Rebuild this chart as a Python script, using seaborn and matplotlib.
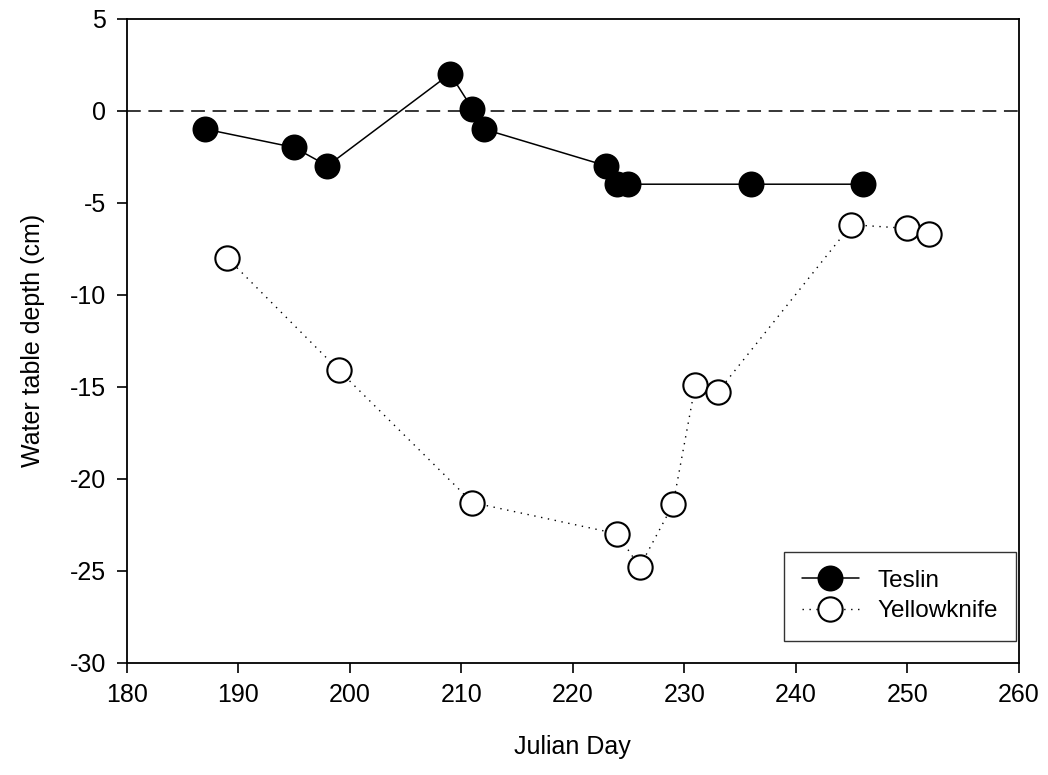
import matplotlib
matplotlib.use("Agg")
import matplotlib.pyplot as plt
import seaborn as sns
import pandas as pd

# Teslin site
teslin_day = [187, 195, 198, 209, 211, 212, 223, 224, 225, 236, 246]
teslin_depth = [-1, -2, -3, 2, 0.1, -1, -3, -4, -4, -4, -4]

# Yellowknife site
yk_day = [189, 199, 211, 224, 226, 229, 231, 233, 245, 250, 252]
yk_depth = [-8.0, -14.1, -21.3, -23.0, -24.8, -21.4, -14.9, -15.3, -6.2, -6.4, -6.7]

x_ticks = [180, 190, 200, 210, 220, 230, 240, 250, 260]
y_ticks = [5, 0, -5, -10, -15, -20, -25, -30]

sns.set_style("ticks")
plt.rcParams["font.family"] = ["Liberation Sans", "DejaVu Sans"]
plt.rcParams["axes.unicode_minus"] = False
plt.rcParams["text.color"] = "black"
plt.rcParams["axes.labelcolor"] = "black"

teslin = pd.DataFrame({"day": teslin_day, "depth": teslin_depth})
yk = pd.DataFrame({"day": yk_day, "depth": yk_depth})

fig = plt.figure(figsize=(10.48, 7.75), dpi=100)
ax = fig.add_axes([0.121, 0.145, 0.851, 0.831])

ax.axhline(0, color="black", lw=1.1, ls=(0, (9, 5)), zorder=1)

sns.lineplot(data=teslin, x="day", y="depth", ax=ax, color="black", lw=1.1,
             marker="o", markersize=17.5, markerfacecolor="black",
             markeredgecolor="black", markeredgewidth=1.2, label="Teslin",
             sort=False, zorder=3)
sns.lineplot(data=yk, x="day", y="depth", ax=ax, color="black", lw=1.0,
             ls=(0, (1, 4)), marker="o", markersize=17.5, markerfacecolor="white",
             markeredgecolor="black", markeredgewidth=1.5, label="Yellowknife",
             sort=False, zorder=3)

ax.set_xlim(180, 260)
ax.set_ylim(-30, 5)
ax.set_xticks(x_ticks)
ax.set_yticks(y_ticks)
ax.tick_params(direction="out", length=7, width=1.2, labelsize=18,
               colors="black", pad=8)
for s in ax.spines.values():
    s.set_linewidth(1.3)
    s.set_color("black")

ax.set_xlabel("Julian Day", fontsize=18, labelpad=20)
ax.set_ylabel("Water table depth (cm)", fontsize=18, labelpad=18)

leg = ax.legend(loc="lower right", bbox_to_anchor=(0.997, 0.034), fontsize=17.5,
                frameon=True, fancybox=False, handlelength=2.35,
                borderpad=0.75, labelspacing=0.35, handletextpad=0.75,
                borderaxespad=0)
leg.get_frame().set_edgecolor("black")
leg.get_frame().set_linewidth(1.0)

fig.savefig("out.png", dpi=100)
